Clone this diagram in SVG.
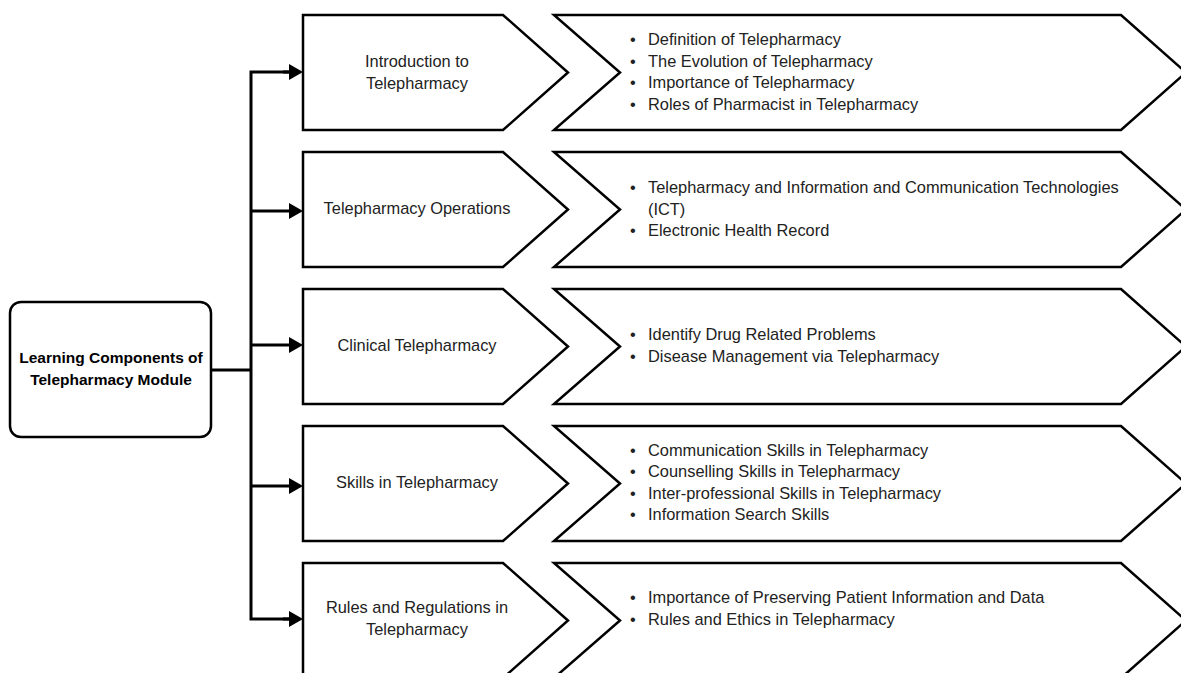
<svg xmlns="http://www.w3.org/2000/svg" width="1181" height="673" viewBox="0 0 1181 673">
<style>
.shape{fill:#fff;stroke:#000;stroke-width:2.5;stroke-linejoin:miter}
.conn{fill:none;stroke:#000;stroke-width:3;stroke-linejoin:miter}
text{font-family:"Liberation Sans",Arial,sans-serif;font-size:16.4px;fill:#222}
.title{font-weight:bold;fill:#000;font-size:15.5px}
.mid{text-anchor:middle}
</style>
<defs>
<marker id="ah" markerUnits="userSpaceOnUse" markerWidth="14" markerHeight="16" refX="6" refY="8" orient="auto">
<path d="M0,0 L14,8 L0,16 z" fill="#000"/>
</marker>
</defs>
<rect width="1181" height="673" fill="#fff"/>
<g id="connectors">
<path class="conn" d="M211,370 H251"/>
<path class="conn" d="M295,72 H251 V619 H295"/>
<line class="conn" x1="283" y1="72" x2="295" y2="72" marker-end="url(#ah)"/>
<line class="conn" x1="251" y1="211" x2="295" y2="211" marker-end="url(#ah)"/>
<line class="conn" x1="251" y1="345" x2="295" y2="345" marker-end="url(#ah)"/>
<line class="conn" x1="251" y1="486" x2="295" y2="486" marker-end="url(#ah)"/>
<line class="conn" x1="283" y1="619" x2="295" y2="619" marker-end="url(#ah)"/>
</g>
<g id="root">
<rect class="shape" x="10" y="302" width="201" height="135" rx="11"/>
<text class="title mid" x="111" y="363">Learning Components of</text>
<text class="title mid" x="111" y="385">Telepharmacy Module</text>
</g>
<g id="comp1">
<polygon class="shape" points="303,15 503,15 568,72.5 503,130 303,130"/>
<text class="mid" x="417" y="67">Introduction to</text>
<text class="mid" x="417" y="89">Telepharmacy</text>
</g>
<g id="detail1">
<polygon class="shape" points="554,15 1121,15 1186,72.5 1121,130 554,130 620,72.5"/>
<text x="630" y="45">•</text><text x="648" y="45">Definition of Telepharmacy</text>
<text x="630" y="67">•</text><text x="648" y="67">The Evolution of Telepharmacy</text>
<text x="630" y="88">•</text><text x="648" y="88">Importance of Telepharmacy</text>
<text x="630" y="110">•</text><text x="648" y="110">Roles of Pharmacist in Telepharmacy</text>
</g>
<g id="comp2">
<polygon class="shape" points="303,152 503,152 568,209.5 503,267 303,267"/>
<text class="mid" x="417" y="214">Telepharmacy Operations</text>
</g>
<g id="detail2">
<polygon class="shape" points="554,152 1121,152 1186,209.5 1121,267 554,267 620,209.5"/>
<text x="630" y="193">•</text><text x="648" y="193">Telepharmacy and Information and Communication Technologies</text>
<text x="648" y="215">(ICT)</text>
<text x="630" y="236">•</text><text x="648" y="236">Electronic Health Record</text>
</g>
<g id="comp3">
<polygon class="shape" points="303,289 503,289 568,346.5 503,404 303,404"/>
<text class="mid" x="417" y="351">Clinical Telepharmacy</text>
</g>
<g id="detail3">
<polygon class="shape" points="554,289 1121,289 1186,346.5 1121,404 554,404 620,346.5"/>
<text x="630" y="340">•</text><text x="648" y="340">Identify Drug Related Problems</text>
<text x="630" y="362">•</text><text x="648" y="362">Disease Management via Telepharmacy</text>
</g>
<g id="comp4">
<polygon class="shape" points="303,426 503,426 568,483.5 503,541 303,541"/>
<text class="mid" x="417" y="488">Skills in Telepharmacy</text>
</g>
<g id="detail4">
<polygon class="shape" points="554,426 1121,426 1186,483.5 1121,541 554,541 620,483.5"/>
<text x="630" y="456">•</text><text x="648" y="456">Communication Skills in Telepharmacy</text>
<text x="630" y="477">•</text><text x="648" y="477">Counselling Skills in Telepharmacy</text>
<text x="630" y="499">•</text><text x="648" y="499">Inter-professional Skills in Telepharmacy</text>
<text x="630" y="520">•</text><text x="648" y="520">Information Search Skills</text>
</g>
<g id="comp5">
<polygon class="shape" points="303,563 503,563 568,620.5 503,678 303,678"/>
<text class="mid" x="417" y="613">Rules and Regulations in</text>
<text class="mid" x="417" y="635">Telepharmacy</text>
</g>
<g id="detail5">
<polygon class="shape" points="554,563 1121,563 1186,620.5 1121,678 554,678 620,620.5"/>
<text x="630" y="603">•</text><text x="648" y="603">Importance of Preserving Patient Information and Data</text>
<text x="630" y="625">•</text><text x="648" y="625">Rules and Ethics in Telepharmacy</text>
</g>
</svg>
